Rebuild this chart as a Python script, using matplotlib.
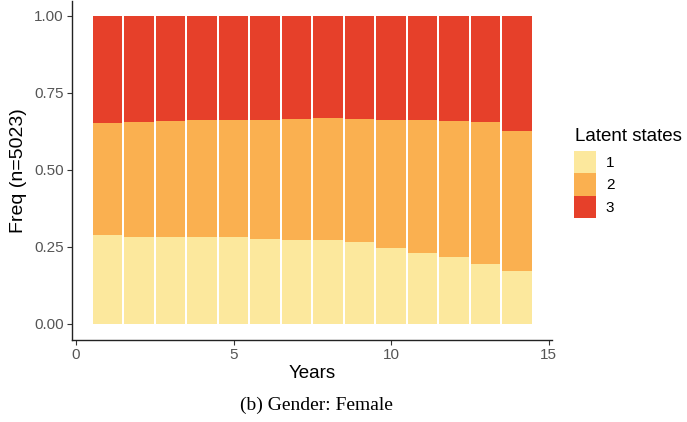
import matplotlib
matplotlib.use("Agg")
import matplotlib.pyplot as plt
from matplotlib.patches import Patch
import numpy as np

# Yearly share of each latent state (female subsample, n=5023)
years = list(range(1, 15))
state1 = [0.288, 0.284, 0.284, 0.281, 0.281, 0.277, 0.274, 0.272, 0.265, 0.246, 0.232, 0.219, 0.195, 0.173]
cum12 = [0.652, 0.657, 0.660, 0.663, 0.662, 0.661, 0.667, 0.668, 0.667, 0.663, 0.663, 0.660, 0.657, 0.627]
state2 = [c - a for c, a in zip(cum12, state1)]
state3 = [1 - c for c in cum12]
state_labels = ["1", "2", "3"]
colors = ["#FCE89D", "#FAB050", "#E6402A"]
x_ticks = [0, 5, 10, 15]
y_ticks = [0.00, 0.25, 0.50, 0.75, 1.00]

plt.rcParams["font.family"] = ["Liberation Sans", "DejaVu Sans"]

fig = plt.figure(figsize=(6.87, 4.22), dpi=100)
ax = fig.add_axes([0.1048, 0.1943, 0.6987, 0.8043])

series = [state1, state2, state3]
bottom = np.zeros(len(years))
for vals, col in zip(series, colors):
    ax.bar(years, vals, bottom=bottom, width=0.935, color=col, linewidth=0)
    bottom += np.array(vals)

ax.set_xlim(-0.13, 15.11)
ax.set_ylim(-0.052, 1.05)
ax.set_xticks(x_ticks)
ax.set_yticks(y_ticks)
ax.set_yticklabels([f"{v:.2f}" for v in y_ticks])
for s in ["top", "right"]:
    ax.spines[s].set_visible(False)
for s in ["left", "bottom"]:
    ax.spines[s].set_linewidth(1.0)
    ax.spines[s].set_color("#222222")
ax.tick_params(axis="both", colors="#333333", labelcolor="#555555",
               labelsize=11, length=3.5, width=0.8, pad=2.5)

ax.set_xlabel("Years", fontsize=13.5, labelpad=2)
ax.set_ylabel("Freq (n=5023)", fontsize=14, labelpad=5)

# Legend: title drawn as text, keys stacked directly beneath
fig.text(575 / 687, 1 - 141 / 422, "Latent states", fontsize=13.5,
         ha="left", va="baseline")
handles = [Patch(facecolor=c, edgecolor="none") for c in colors]
fig.legend(handles, state_labels, loc="upper left",
           bbox_to_anchor=(574 / 687, 1 - 151 / 422), frameon=False,
           fontsize=11, handlelength=1.44, handleheight=1.87,
           labelspacing=0.0, handletextpad=0.65, borderpad=0.0,
           borderaxespad=0.0)

fig.text(0.46, 0.04, "(b) Gender: Female", ha="center", va="center",
         fontsize=14, family=["Liberation Serif", "DejaVu Serif"])

fig.savefig("out.png", dpi=100)
